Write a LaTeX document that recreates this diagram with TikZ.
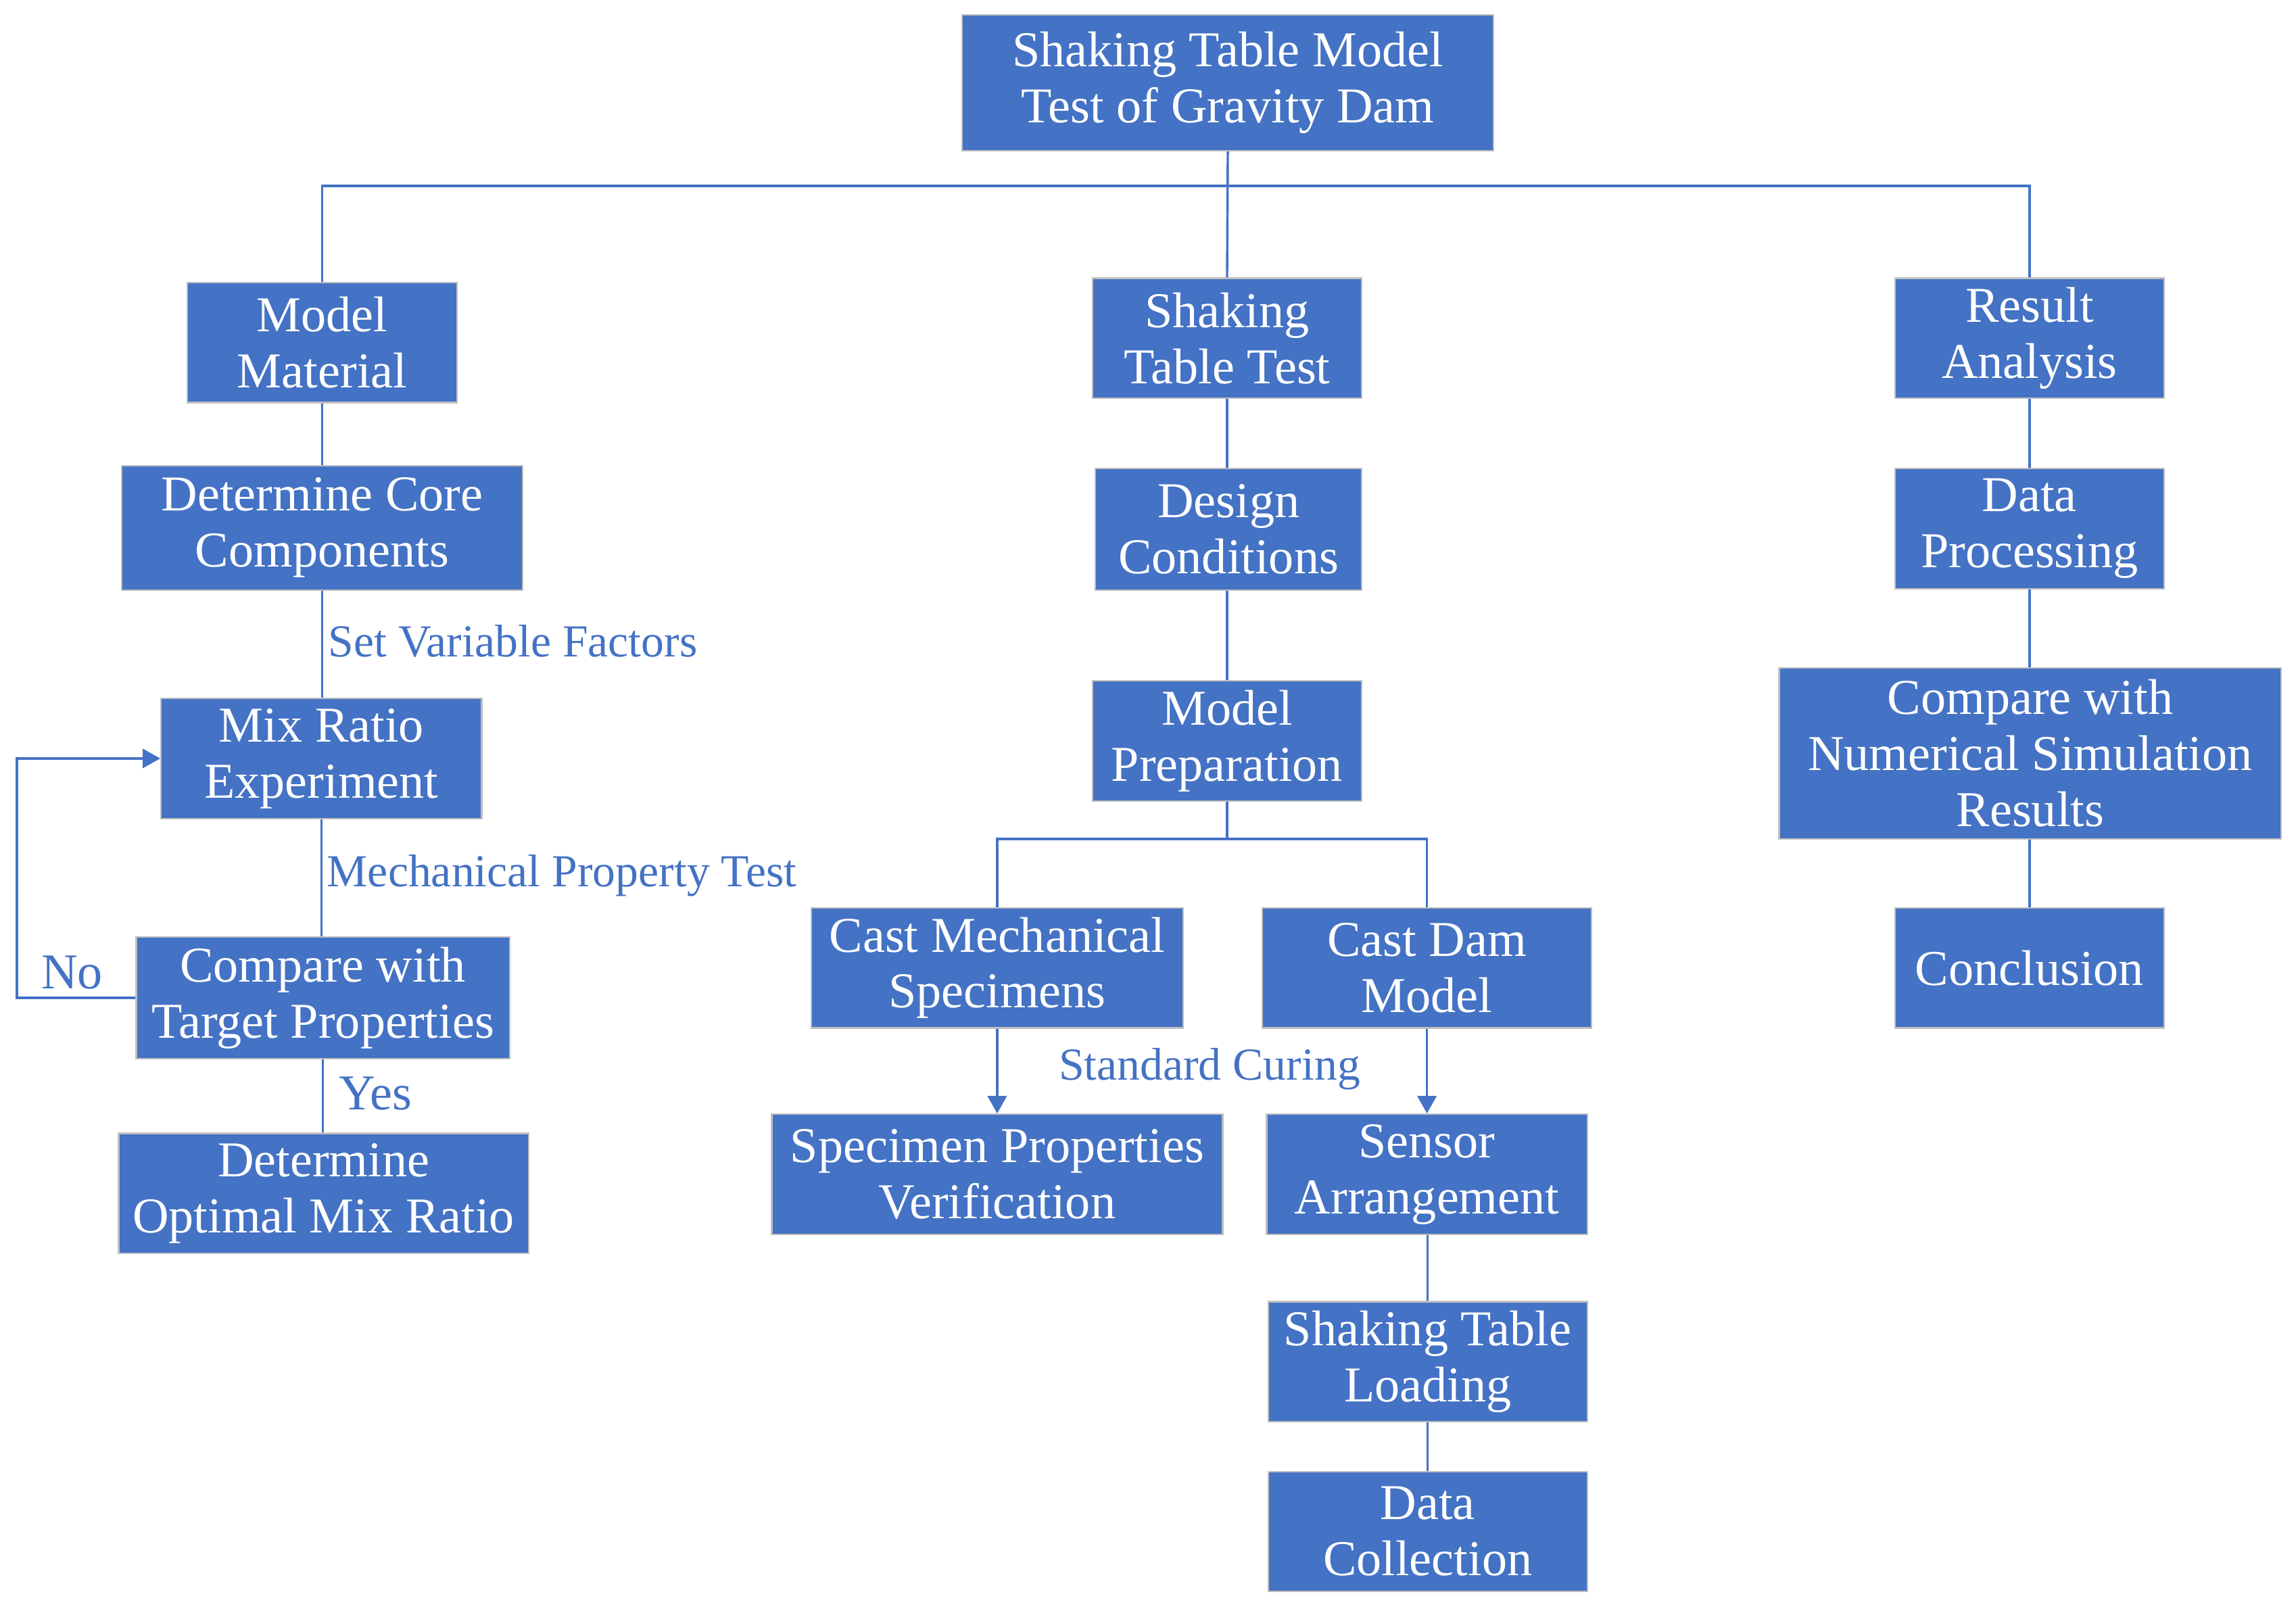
\documentclass[tikz,border=0pt]{standalone}
\usepackage{fontspec}
\setmainfont{Liberation Serif}
\usetikzlibrary{arrows.meta}
\definecolor{wblue}{HTML}{4472C4}
\definecolor{wedge}{HTML}{BFBFBF}
\tikzset{
  box/.style={rectangle, fill=wblue, draw=wedge, line width=0.6pt, text=white, align=center,
    inner sep=0pt, font=\fontsize{19.5}{21.8}\selectfont},
  conn/.style={draw=wblue, line width=0.9pt},
  arr/.style={conn, -{Triangle[length=0.24cm,width=0.26cm]}},
  lbl/.style={text=wblue, inner sep=0pt, font=\fontsize{17.8}{20}\selectfont},
  biglbl/.style={text=wblue, inner sep=0pt, font=\fontsize{19.5}{21.8}\selectfont}
}
\begin{document}
\begin{tikzpicture}[x=0.02cm,y=-0.02cm]
\useasboundingbox (0,0) rectangle (1568,1100);
% nodes
\node[box, minimum width=7.26cm, minimum height=1.86cm] (top) at (838.5,56.5) {Shaking Table Model\\Test of Gravity Dam};
\node[box, minimum width=3.68cm, minimum height=1.64cm] (MM) at (220,234) {Model\\Material};
\node[box, minimum width=3.68cm, minimum height=1.64cm] (STT) at (838,231) {Shaking\\Table Test};
\node[box, minimum width=3.68cm, minimum height=1.64cm] (RA) at (1386,231) {Result\\Analysis};
\node[box, minimum width=5.48cm, minimum height=1.70cm] (DCC) at (220,360.5) {Determine Core\\Components};
\node[box, minimum width=3.64cm, minimum height=1.66cm] (DC) at (839,361.5) {Design\\Conditions};
\node[box, minimum width=3.68cm, minimum height=1.64cm] (DP) at (1386,361) {Data\\Processing};
\node[box, minimum width=4.38cm, minimum height=1.64cm] (MRE) at (219.5,518) {Mix Ratio\\Experiment};
\node[box, minimum width=3.68cm, minimum height=1.64cm] (MP) at (838,506) {Model\\Preparation};
\node[box, minimum width=6.86cm, minimum height=2.34cm] (CNS) at (1386.5,514.5) {Compare with\\Numerical Simulation\\Results};
\node[box, minimum width=5.10cm, minimum height=1.66cm] (CTP) at (220.5,681.5) {Compare with\\Target Properties};
\node[box, minimum width=5.08cm, minimum height=1.64cm] (CMS) at (681,661) {Cast Mechanical\\Specimens};
\node[box, minimum width=4.50cm, minimum height=1.64cm] (CDM) at (974.5,661) {Cast Dam\\Model};
\node[box, minimum width=3.68cm, minimum height=1.64cm] (CON) at (1386,661) {Conclusion};
\node[box, minimum width=5.60cm, minimum height=1.64cm] (DOMR) at (221,815) {Determine\\Optimal Mix Ratio};
\node[box, minimum width=6.16cm, minimum height=1.64cm] (SPV) at (681,802) {Specimen Properties\\Verification};
\node[box, minimum width=4.38cm, minimum height=1.64cm] (SA) at (974.5,802) {Sensor\\Arrangement};
\node[box, minimum width=4.36cm, minimum height=1.64cm] (STL) at (975,930) {Shaking Table\\Loading};
\node[box, minimum width=4.36cm, minimum height=1.64cm] (DCOL) at (975,1046) {Data\\Collection};
% coordinates
\coordinate (bus) at (838,127);
\coordinate (split) at (838,573);
% top level
\draw[conn] (top.south) -- (STT.north);
\draw[conn] (MM.north) |- (bus) -| (RA.north);
% left column
\draw[conn] (MM.south) -- (DCC.north);
\draw[conn] (DCC.south) -- (DCC.south |- MRE.north);
\draw[conn] (MRE.south) -- (MRE.south |- CTP.north);
\draw[conn] (CTP.south) -- (CTP.south |- DOMR.north);
\draw[arr] (CTP.west) -- ++(-81,0) |- (MRE.west);
\node[lbl, anchor=west] (l1) at (224,438) {Set Variable Factors};
\node[lbl, anchor=west] (l2) at (223,598) {Mechanical Property Test};
\node[biglbl, anchor=west] (l3) at (231,747) {Yes};
\node[biglbl, anchor=west] (l4) at (28,664) {No};
% middle column
\draw[conn] (STT.south) -- (DC.north -| STT.south);
\draw[conn] (DC.south -| MP.north) -- (MP.north);
\draw[conn] (MP.south) -- (split);
\draw[conn] (CMS.north) |- (split) -| (CDM.north);
\draw[arr] (CMS.south) -- (SPV.north);
\draw[arr] (CDM.south) -- (CDM.south |- SA.north);
\draw[conn] (SA.south -| STL.north) -- (STL.north);
\draw[conn] (STL.south) -- (DCOL.north);
\node[lbl] (l5) at (826,730) {Standard Curing};
% right column
\draw[conn] (RA.south) -- (DP.north);
\draw[conn] (DP.south) -- (DP.south |- CNS.north);
\draw[conn] (CNS.south -| CON.north) -- (CON.north);
\end{tikzpicture}
\end{document}
